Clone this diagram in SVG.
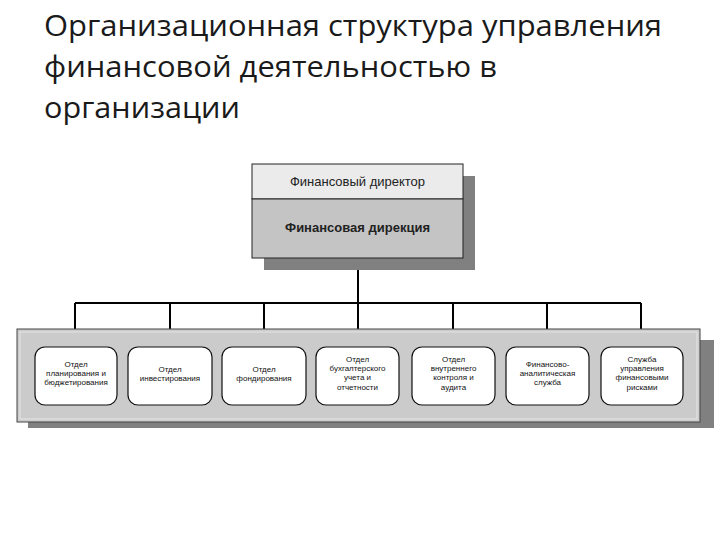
<svg xmlns="http://www.w3.org/2000/svg" width="720" height="540" viewBox="0 0 720 540">
<style>
.title{font-family:"Open Sans","Liberation Sans",sans-serif;font-size:30px;fill:#1a1a1a}
.hdr{font-family:"Liberation Sans",Arial,sans-serif;font-size:13px;fill:#222;text-anchor:middle}
.bold{font-weight:bold}
.sm{font-family:"Liberation Sans",Arial,sans-serif;font-size:8px;fill:#111;text-anchor:middle}
.shadow{fill:#808080}
.unit{fill:#fff;stroke:#111;stroke-width:1.2}
.conn{stroke:#000;stroke-width:2;fill:none}
</style>
<rect width="720" height="540" fill="#fff"/>
<g id="title">
<text class="title" x="44" y="36" textLength="618" lengthAdjust="spacingAndGlyphs">Организационная структура управления</text>
<text class="title" x="44" y="77" textLength="453" lengthAdjust="spacingAndGlyphs">финансовой деятельностью в</text>
<text class="title" x="44" y="118" textLength="196" lengthAdjust="spacingAndGlyphs">организации</text>
</g>
<g id="connectors">
<path class="conn" d="M358 258V303M75 303H641M75 303V329M170 303V329M264 303V329M358 303V329M453 303V329M547 303V329M641 303V329"/>
</g>
<g id="director">
<rect class="shadow" x="264" y="176" width="211" height="94"/>
<rect x="252" y="164" width="211" height="35" fill="#ebebeb" stroke="#222" stroke-width="1"/>
<rect x="252" y="199" width="211" height="59" fill="#c4c4c4" stroke="#222" stroke-width="1"/>
<text class="hdr" x="357.5" y="186">Финансовый директор</text>
<text class="hdr bold" x="357.5" y="232">Финансовая дирекция</text>
</g>
<g id="container">
<rect class="shadow" x="28" y="340" width="686" height="88"/>
<rect x="17" y="329" width="683" height="93" fill="#cbcbcb" stroke="#444" stroke-width="1"/>
<rect x="20" y="332" width="677" height="87" fill="none" stroke="#e6e6e6" stroke-width="1"/>
</g>
<g id="n1">
<rect class="unit" x="35" y="347" width="82" height="58" rx="10"/>
<text class="sm" x="76" y="367">Отдел</text>
<text class="sm" x="76" y="376">планирования и</text>
<text class="sm" x="76" y="385">бюджетирования</text>
</g>
<g id="n2">
<rect class="unit" x="128" y="347" width="84" height="58" rx="10"/>
<text class="sm" x="170" y="372">Отдел</text>
<text class="sm" x="170" y="381">инвестирования</text>
</g>
<g id="n3">
<rect class="unit" x="222" y="347" width="84" height="58" rx="10"/>
<text class="sm" x="264" y="372">Отдел</text>
<text class="sm" x="264" y="381">фондирования</text>
</g>
<g id="n4">
<rect class="unit" x="316" y="347" width="83" height="58" rx="10"/>
<text class="sm" x="357.5" y="362">Отдел</text>
<text class="sm" x="357.5" y="371">бухгалтерского</text>
<text class="sm" x="357.5" y="380">учета и</text>
<text class="sm" x="357.5" y="390">отчетности</text>
</g>
<g id="n5">
<rect class="unit" x="412" y="347" width="83" height="58" rx="10"/>
<text class="sm" x="453.5" y="362">Отдел</text>
<text class="sm" x="453.5" y="371">внутреннего</text>
<text class="sm" x="453.5" y="380">контроля и</text>
<text class="sm" x="453.5" y="390">аудита</text>
</g>
<g id="n6">
<rect class="unit" x="506" y="347" width="83" height="58" rx="10"/>
<text class="sm" x="547.5" y="367">Финансово-</text>
<text class="sm" x="547.5" y="376">аналитическая</text>
<text class="sm" x="547.5" y="385">служба</text>
</g>
<g id="n7">
<rect class="unit" x="601" y="347" width="82" height="58" rx="10"/>
<text class="sm" x="642" y="362">Служба</text>
<text class="sm" x="642" y="371">управления</text>
<text class="sm" x="642" y="380">финансовыми</text>
<text class="sm" x="642" y="390">рисками</text>
</g>
</svg>
